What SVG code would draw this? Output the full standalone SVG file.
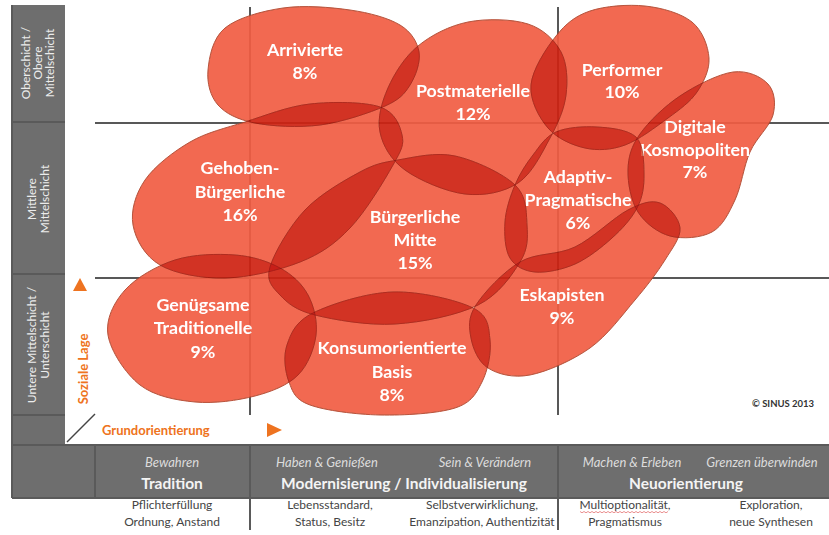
<svg xmlns="http://www.w3.org/2000/svg" width="829" height="535" viewBox="0 0 829 535">
<style>
.grid{stroke:#585858;stroke-width:2;fill:none}
.sep{stroke:#5a5a5a;stroke-width:2;fill:none}
.blob{fill:#f25d43;stroke:#c8452c;stroke-width:1;mix-blend-mode:multiply}
.lbl{font-family:Lato,'Open Sans',sans-serif;font-weight:700;font-size:17.8px;fill:#ffffff;text-anchor:middle}
.row{font-family:Lato,'Open Sans',sans-serif;font-size:12px;fill:#ececec;text-anchor:middle}
.axis{font-family:Lato,'Open Sans',sans-serif;font-weight:700;font-size:13px;fill:#ee7320}
.it{font-family:Lato,'Open Sans',sans-serif;font-style:italic;font-size:13px;fill:#dcdcdc;text-anchor:middle}
.hd{font-family:Lato,'Open Sans',sans-serif;font-weight:700;font-size:15.5px;fill:#f4f4f4;text-anchor:middle}
.ft{font-family:Lato,'Open Sans',sans-serif;font-size:12px;fill:#444444;text-anchor:middle}
.tri{fill:#ee7320}
</style>
<defs>
  <filter id="deepen" x="0" y="0" width="829" height="535" filterUnits="userSpaceOnUse" color-interpolation-filters="sRGB">
    <feComponentTransfer>
      <feFuncR type="table" tableValues="0 0.045 0.09 0.135 0.18 0.225 0.27 0.315 0.36 0.405 0.45 0.495 0.54 0.585 0.63 0.675 0.72 0.768 0.816 0.95 1"/>
    </feComponentTransfer>
  </filter>
</defs>
<rect width="829" height="535" fill="#ffffff"/>

<g id="frame">
  <rect x="12" y="5" width="53" height="440" fill="#6e6e6e"/>
  <rect x="12" y="445" width="817" height="53" fill="#6e6e6e"/>
  <path class="sep" d="M12,122H65M12,274H65M12,415H65M95,445V498M250,445V498M558,445V498M12,445H829M12,498H829M12,5V498"/>
  <path class="sep" d="M250,498V530M558,498V530"/>
  <path d="M67,442L95,414" stroke="#444" stroke-width="1.5"/>
</g>

<g id="grid">
  <path class="grid" d="M95,123H829M95,278H829M250,7V415M558,7V415"/>
</g>

<g id="row-labels">
  <text class="row" transform="translate(30,63) rotate(-90)">Oberschicht /</text>
  <text class="row" transform="translate(42,63) rotate(-90)">Obere</text>
  <text class="row" transform="translate(54,63) rotate(-90)">Mittelschicht</text>
  <text class="row" transform="translate(36,199) rotate(-90)">Mittlere</text>
  <text class="row" transform="translate(49,199) rotate(-90)">Mittelschicht</text>
  <text class="row" transform="translate(36,345) rotate(-90)">Untere Mittelschicht /</text>
  <text class="row" transform="translate(49,345) rotate(-90)">Unterschicht</text>
</g>

<g id="axes">
  <polygon class="tri" points="73,291 87,291 80,278"/>
  <text class="axis" text-anchor="middle" transform="translate(88,369) rotate(-90)">Soziale Lage</text>
  <text class="axis" x="102" y="435">Grundorientierung</text>
  <polygon class="tri" points="267,423 267,437 282,430"/>
</g>

<g id="milieus" opacity="0.92" filter="url(#deepen)">
  <g id="performer">
    <path class="blob" d="M556,36 C565.8,23.7 575.2,16 590,11 C604.8,6 628,4.2 645,6 C662,7.8 681.3,13.3 692,22 C702.7,30.7 708.2,46.3 709,58 C709.8,69.7 703.8,82 697,92 C690.2,102 680,109.2 668,118 C656,126.8 638.8,140 625,145 C611.2,150 597.8,150.8 585,148 C572.2,145.2 557,138.5 548,128 C539,117.5 529.7,100.3 531,85 C532.3,69.7 546.2,48.3 556,36 Z"/>
    <text class="lbl" x="622" y="76">Performer</text>
    <text class="lbl" x="622" y="98">10%</text>
  </g>
  <g id="arrivierte">
    <path class="blob" d="M208,70 C209.2,57.2 212.5,38.3 225,28 C237.5,17.7 262.2,11 283,8 C303.8,5 330.5,7.2 350,10 C369.5,12.8 388.5,18 400,25 C411.5,32 417.3,42 419,52 C420.7,62 415.7,76 410,85 C404.3,94 400,99.3 385,106 C370,112.7 341.7,122.2 320,125 C298.3,127.8 272,126.3 255,123 C238,119.7 225.8,113.8 218,105 C210.2,96.2 206.8,82.8 208,70 Z"/>
    <text class="lbl" x="305" y="56">Arrivierte</text>
    <text class="lbl" x="305" y="79">8%</text>
  </g>
  <g id="postmaterielle">
    <path class="blob" d="M418,46 C431.3,35 449.7,25.7 468,22 C486.3,18.3 512.5,19 528,24 C543.5,29 554.7,40.2 561,52 C567.3,63.8 567.8,80.7 566,95 C564.2,109.3 558,123.3 550,138 C542,152.7 532.2,173.7 518,183 C503.8,192.3 483.8,196.2 465,194 C446.2,191.8 419.2,180.3 405,170 C390.8,159.7 382.8,145.7 380,132 C377.2,118.3 381.7,102.3 388,88 C394.3,73.7 404.7,57 418,46 Z"/>
    <text class="lbl" x="473" y="97">Postmaterielle</text>
    <text class="lbl" x="473" y="120">12%</text>
  </g>
  <g id="digitale-kosmopoliten">
    <path class="blob" d="M640,134 C648.7,121.7 664.5,106.3 680,96 C695.5,85.7 718.3,74 733,72 C747.7,70 761.3,76.8 768,84 C774.7,91.2 776,103.7 773,115 C770,126.3 756.3,137.8 750,152 C743.7,166.2 741.3,186.7 735,200 C728.7,213.3 722.8,226 712,232 C701.2,238 682.3,239.3 670,236 C657.7,232.7 645,223 638,212 C631,201 627.7,183 628,170 C628.3,157 631.3,146.3 640,134 Z"/>
    <text class="lbl" x="695" y="133">Digitale</text>
    <text class="lbl" x="695" y="156">Kosmopoliten</text>
    <text class="lbl" x="695" y="178">7%</text>
  </g>
  <g id="adaptiv-pragmatische">
    <path class="blob" d="M556,132 C566.7,127.3 583.7,126.2 597,127 C610.3,127.8 627.7,129.5 636,137 C643.8,144.8 643.8,162.2 644,174 C644.2,185.8 642.8,197 637,208 C631.2,219 622.3,228.7 612,238 C601.7,247.3 587.8,258.3 575,264 C562.2,269.7 545.8,273 535,272 C524.2,271 515,266.3 510,258 C505,249.7 504.2,234.2 505,222 C505.8,209.8 510.3,196.2 515,185 C519.7,173.8 526.2,163.8 533,155 C539.8,146.2 545.3,136.7 556,132 Z"/>
    <text class="lbl" x="578" y="183">Adaptiv-</text>
    <text class="lbl" x="578" y="206">Pragmatische</text>
    <text class="lbl" x="578" y="229">6%</text>
  </g>
  <g id="gehoben-buergerliche">
    <path class="blob" d="M245,122 C265,115.7 287.5,106.5 310,104 C332.5,101.5 364.7,101.8 380,107 C395.3,112.2 399.8,125.3 402,135 C404.2,144.7 401.7,149.5 393,165 C384.3,180.5 365.5,211.8 350,228 C334.5,244.2 320.8,253.7 300,262 C279.2,270.3 248.3,277.5 225,278 C201.7,278.5 175.3,273.8 160,265 C144.7,256.2 135.5,239.2 133,225 C130.5,210.8 135.5,193.8 145,180 C154.5,166.2 173.3,151.7 190,142 C206.7,132.3 225,128.3 245,122 Z"/>
    <text class="lbl" x="240" y="174">Gehoben-</text>
    <text class="lbl" x="240" y="198">Bürgerliche</text>
    <text class="lbl" x="240" y="221">16%</text>
  </g>
  <g id="buergerliche-mitte">
    <path class="blob" d="M270,267 C274.2,252.8 290,225.8 305,210 C320,194.2 344.5,180.3 360,172 C375.5,163.7 382.2,162.7 398,160 C413.8,157.3 435.5,151.8 455,156 C474.5,160.2 503,173.5 515,185 C527,196.5 526.2,212.2 527,225 C527.8,237.8 528.2,248.7 520,262 C511.8,275.3 498.8,294.7 478,305 C457.2,315.3 422.2,322.3 395,324 C367.8,325.7 334.2,319.8 315,315 C295.8,310.2 287.5,303 280,295 C272.5,287 265.8,281.2 270,267 Z"/>
    <text class="lbl" x="415" y="223">Bürgerliche</text>
    <text class="lbl" x="415" y="246">Mitte</text>
    <text class="lbl" x="415" y="269">15%</text>
  </g>
  <g id="genuegsame-traditionelle">
    <path class="blob" d="M108,335 C105.5,319.2 113.8,302.5 125,290 C136.2,277.5 156.7,265.8 175,260 C193.3,254.2 217.5,253.7 235,255 C252.5,256.3 267.8,261.3 280,268 C292.2,274.7 302,283.8 308,295 C314,306.2 317.7,321.7 316,335 C314.3,348.3 308.2,364.8 298,375 C287.8,385.2 272.2,391.5 255,396 C237.8,400.5 214.2,403.8 195,402 C175.8,400.2 154.5,396.2 140,385 C125.5,373.8 110.5,350.8 108,335 Z"/>
    <text class="lbl" x="203" y="311">Genügsame</text>
    <text class="lbl" x="203" y="334">Traditionelle</text>
    <text class="lbl" x="203" y="358">9%</text>
  </g>
  <g id="eskapisten">
    <path class="blob" d="M471,338 C469,327.5 467.8,317.7 476,305 C484.2,292.3 503.5,271.7 520,262 C536.5,252.3 557,255.7 575,247 C593,238.3 613.8,217.3 628,210 C642.2,202.7 651.3,200 660,203 C668.7,206 679.2,218.5 680,228 C680.8,237.5 672.5,248 665,260 C657.5,272 647.5,285.3 635,300 C622.5,314.7 607.5,335.5 590,348 C572.5,360.5 547,371.7 530,375 C513,378.3 497.8,374.2 488,368 C478.2,361.8 473,348.5 471,338 Z"/>
    <text class="lbl" x="562" y="301">Eskapisten</text>
    <text class="lbl" x="562" y="324">9%</text>
  </g>
  <g id="konsumorientierte-basis">
    <path class="blob" d="M313,313 C330.7,304.2 366.3,292.8 393,292 C419.7,291.2 456.8,300 473,308 C489.2,316 488.5,327.7 490,340 C491.5,352.3 487.8,370.7 482,382 C476.2,393.3 472,402.5 455,408 C438,413.5 404.2,415.5 380,415 C355.8,414.5 325.2,410.5 310,405 C294.8,399.5 292.8,392 289,382 C285.2,372 283,356.5 287,345 C291,333.5 295.3,321.8 313,313 Z"/>
    <text class="lbl" x="392" y="354">Konsumorientierte</text>
    <text class="lbl" x="392" y="378">Basis</text>
    <text class="lbl" x="392" y="401">8%</text>
  </g>
</g>

<text x="752" y="407" font-family="Lato,'Open Sans',sans-serif" font-weight="700" font-size="9.5" fill="#333333">© SINUS 2013</text>

<g id="orientation-band">
  <text class="it" x="172" y="467">Bewahren</text>
  <text class="hd" x="172" y="489">Tradition</text>
  <text class="it" x="327" y="467">Haben &amp; Genießen</text>
  <text class="it" x="485" y="467">Sein &amp; Verändern</text>
  <text class="hd" x="404" y="489">Modernisierung / Individualisierung</text>
  <text class="it" x="632" y="467">Machen &amp; Erleben</text>
  <text class="it" x="762" y="467">Grenzen überwinden</text>
  <text class="hd" x="686" y="489">Neuorientierung</text>
</g>

<g id="values">
  <text class="ft" x="172" y="509">Pflichterfüllung</text>
  <text class="ft" x="172" y="526">Ordnung, Anstand</text>
  <text class="ft" x="330" y="509">Lebensstandard,</text>
  <text class="ft" x="330" y="526">Status, Besitz</text>
  <text class="ft" x="482" y="509">Selbstverwirklichung,</text>
  <text class="ft" x="482" y="526">Emanzipation, Authentizität</text>
  <text class="ft" x="625" y="509">Multioptionalität,</text>
  <text class="ft" x="625" y="526">Pragmatismus</text>
  <text class="ft" x="771" y="509">Exploration,</text>
  <text class="ft" x="771" y="526">neue Synthesen</text>
  <path d="M580,511.5 l2,1.3 2,-1.3 2,1.3 2,-1.3 2,1.3 2,-1.3 2,1.3 2,-1.3 2,1.3 2,-1.3 2,1.3 2,-1.3 2,1.3 2,-1.3 2,1.3 2,-1.3 2,1.3 2,-1.3 2,1.3 2,-1.3 2,1.3 2,-1.3 2,1.3 2,-1.3 2,1.3 2,-1.3 2,1.3 2,-1.3 2,1.3 2,-1.3 2,1.3 2,-1.3 2,1.3 2,-1.3 2,1.3 2,-1.3 2,1.3 2,-1.3 2,1.3 2,-1.3 2,1.3 2,-1.3 2,1.3 2,-1.3" fill="none" stroke="#e06060" stroke-width="0.7"/>
</g>
</svg>
